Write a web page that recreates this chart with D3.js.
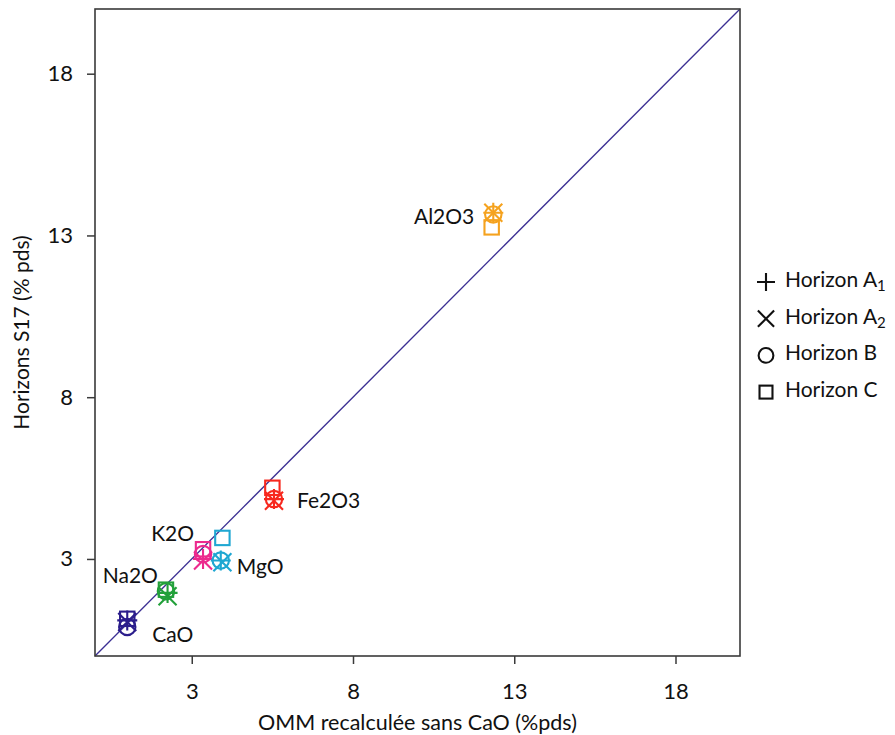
<!DOCTYPE html>
<html>
<head>
<meta charset="utf-8">
<script src="https://cdn.jsdelivr.net/npm/d3@7"></script>
<style>
  html, body { margin: 0; padding: 0; background: #fff; }
  svg text { font-family: "Lato", "Noto Sans", sans-serif; fill: #111; }
</style>
</head>
<body>
<svg id="chart" width="895" height="735"></svg>
<script>
// Oxides and their colours
const oxides = ["CaO", "Na2O", "K2O", "MgO", "Fe2O3", "Al2O3"];
const oxideColors = ["#2b1d8c", "#22a03a", "#ec2a8e", "#1fa7d2", "#f7281e", "#f5a21e"];

// Horizons (marker shapes)
const horizons = ["A1", "A2", "B", "C"];
const horizonShapes = ["plus", "cross", "circle", "square"];

// OMM recalculated without CaO (x), per oxide and horizon
const ommA1 = [1.0, 2.25, 3.35, 3.9, 5.55, 12.35];
const ommA2 = [1.0, 2.25, 3.35, 3.95, 5.55, 12.35];
const ommB  = [1.0, 2.2, 3.35, 3.9, 5.55, 12.35];
const ommC  = [1.0, 2.2, 3.35, 3.95, 5.5, 12.3];

// Horizons S17 (y), per oxide and horizon
const s17A1 = [1.1, 1.95, 3.0, 2.95, 4.85, 13.7];
const s17A2 = [1.05, 1.85, 2.95, 2.9, 4.8, 13.7];
const s17B  = [0.9, 2.0, 3.15, 2.95, 4.85, 13.65];
const s17C  = [1.15, 2.05, 3.3, 3.65, 5.2, 13.25];

const axisTicks = [3, 8, 13, 18];
const xTitle = "OMM recalculée sans CaO (%pds)";
const yTitle = "Horizons S17 (% pds)";

const ommByHorizon = [ommA1, ommA2, ommB, ommC];
const s17ByHorizon = [s17A1, s17A2, s17B, s17C];

const svg = d3.select("#chart");
const margin = { left: 95, right: 155, top: 9, bottom: 79 };
const W = 895, H = 735;

const x = d3.scaleLinear().domain([0, 20]).range([margin.left, W - margin.right]);
const y = d3.scaleLinear().domain([0, 20]).range([H - margin.bottom, margin.top]);

const frameColor = "#3a3a3a";

// 1:1 reference line
svg.append("line")
  .attr("x1", x(0)).attr("y1", y(0))
  .attr("x2", x(20)).attr("y2", y(20))
  .attr("stroke", "#3b2f93").attr("stroke-width", 1.3);

// Axes
const xAxis = svg.append("g")
  .attr("transform", `translate(0,${y(0)})`)
  .call(d3.axisBottom(x).tickValues(axisTicks).tickSize(8).tickPadding(19).tickFormat(d3.format("d")));
const yAxis = svg.append("g")
  .attr("transform", `translate(${x(0)},0)`)
  .call(d3.axisLeft(y).tickValues(axisTicks).tickSize(8).tickPadding(14).tickFormat(d3.format("d")));
[xAxis, yAxis].forEach(g => {
  g.select(".domain").remove();
  g.selectAll(".tick line").attr("stroke", frameColor).attr("stroke-width", 1.5);
  g.selectAll(".tick text").attr("font-size", 22).attr("fill", "#111");
});

// Plot frame
svg.append("rect")
  .attr("x", x(0)).attr("y", y(20))
  .attr("width", x(20) - x(0)).attr("height", y(0) - y(20))
  .attr("fill", "none").attr("stroke", frameColor).attr("stroke-width", 1.6);

// Marker drawing
function drawMarker(g, shape, cx, cy, color, s) {
  const sw = 2.1;
  if (shape === "plus") {
    g.append("path").attr("d", `M${cx - s},${cy}H${cx + s}M${cx},${cy - s}V${cy + s}`)
      .attr("stroke", color).attr("stroke-width", sw).attr("fill", "none");
  } else if (shape === "cross") {
    const k = s * 0.9;
    g.append("path").attr("d", `M${cx - k},${cy - k}L${cx + k},${cy + k}M${cx - k},${cy + k}L${cx + k},${cy - k}`)
      .attr("stroke", color).attr("stroke-width", sw).attr("fill", "none");
  } else if (shape === "circle") {
    g.append("circle").attr("cx", cx).attr("cy", cy).attr("r", s * 0.82)
      .attr("stroke", color).attr("stroke-width", sw).attr("fill", "none");
  } else {
    const h = s * 0.72;
    g.append("rect").attr("x", cx - h).attr("y", cy - h).attr("width", 2 * h).attr("height", 2 * h)
      .attr("stroke", color).attr("stroke-width", sw).attr("fill", "none");
  }
}

const pts = svg.append("g");
oxides.forEach((ox, i) => {
  horizons.forEach((hz, j) => {
    drawMarker(pts, horizonShapes[j], x(ommByHorizon[j][i]), y(s17ByHorizon[j][i]), oxideColors[i], 10);
  });
});

// Oxide labels
const labelPos = {
  CaO:   { dx: 25, dy: 10, anchor: "start" },
  Na2O:  { dx: -8, dy: -14, anchor: "end" },
  K2O:   { dx: -9, dy: -18, anchor: "end" },
  MgO:   { dx: 16, dy: 8, anchor: "start" },
  Fe2O3: { dx: 23, dy: 4, anchor: "start" },
  Al2O3: { dx: -19, dy: 4, anchor: "end" }
};
oxides.forEach((ox, i) => {
  const p = labelPos[ox];
  svg.append("text")
    .attr("x", x(ommB[i]) + p.dx)
    .attr("y", y(s17B[i]) + p.dy)
    .attr("text-anchor", p.anchor)
    .attr("dominant-baseline", "middle")
    .attr("font-size", 21)
    .text(ox);
});

// Axis titles
svg.append("text")
  .attr("x", (x(0) + x(20)) / 2).attr("y", 730)
  .attr("text-anchor", "middle").attr("font-size", 21.5)
  .text(xTitle);
svg.append("text")
  .attr("transform", `translate(29,${(y(0) + y(20)) / 2}) rotate(-90)`)
  .attr("text-anchor", "middle").attr("font-size", 21)
  .text(yTitle);

// Legend
const legend = svg.append("g");
const legendLabels = [["Horizon A", "1"], ["Horizon A", "2"], ["Horizon B", ""], ["Horizon C", ""]];
horizons.forEach((hz, j) => {
  const ly = 282 + j * 36.7;
  drawMarker(legend, horizonShapes[j], 766, ly, "#111", 9);
  const t = legend.append("text")
    .attr("x", 785).attr("y", ly)
    .attr("dominant-baseline", "middle")
    .attr("font-size", 21);
  t.append("tspan").text(legendLabels[j][0]);
  if (legendLabels[j][1]) {
    t.append("tspan").attr("font-size", 15).attr("dy", 5).text(legendLabels[j][1]);
  }
});
</script>
</body>
</html>
